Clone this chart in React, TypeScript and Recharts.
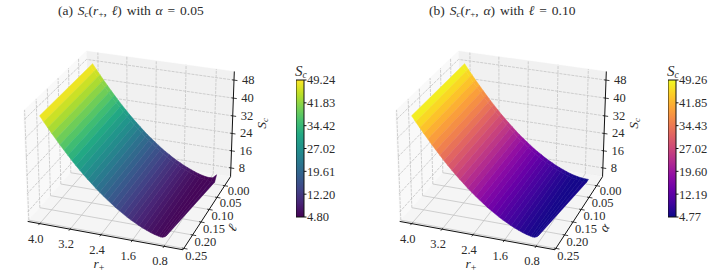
import React from 'react';
import { ScatterChart, Scatter, XAxis, YAxis, BarChart, Bar } from 'recharts';

const FONT = '"Liberation Serif", serif';
const INK = '#2b2b2b';

// values
const rValues = [4.0, 3.9, 3.8, 3.7, 3.6, 3.5, 3.4, 3.3, 3.2, 3.1, 3.0, 2.9, 2.8, 2.7, 2.6, 2.5, 2.4, 2.3, 2.2, 2.1, 2.0, 1.9, 1.8, 1.7, 1.6, 1.5, 1.4, 1.3, 1.2, 1.1, 1.0, 0.9, 0.8, 0.7, 0.6];
const rFrontEdge = [4.0, 3.9, 3.8, 3.7, 3.6, 3.5, 3.4, 3.3, 3.2, 3.1, 3.0, 2.9, 2.8, 2.7, 2.6, 2.5, 2.4, 2.3, 2.2, 2.1, 2.0, 1.9, 1.8, 1.7, 1.6, 1.5, 1.4, 1.3, 1.2, 1.1, 1.0, 0.95, 0.9, 0.85, 0.8];
const scMiddle = [49.2, 46.9, 44.7, 42.5, 40.4, 38.3, 36.3, 34.3, 32.4, 30.5, 28.7, 27.0, 25.3, 23.7, 22.1, 20.6, 19.2, 17.8, 16.5, 15.2, 14.0, 12.9, 11.8, 10.8, 9.9, 9.0, 8.2, 7.5, 6.8, 6.2, 5.7, 5.3, 5.0, 4.85, 4.8];
const scFrontEdge = [49.2, 46.9, 44.7, 42.5, 40.4, 38.3, 36.3, 34.3, 32.4, 30.5, 28.7, 27.0, 25.3, 23.7, 22.1, 20.6, 19.2, 17.8, 16.5, 15.2, 14.0, 12.9, 11.8, 10.8, 9.9, 9.0, 8.2, 7.5, 6.8, 6.3, 5.9, 5.7, 5.8, 6.2, 7.0];
const scTipA = [49.2, 46.9, 44.7, 42.5, 40.4, 38.3, 36.3, 34.3, 32.4, 30.5, 28.7, 27.0, 25.3, 23.7, 22.1, 20.6, 19.2, 17.8, 16.5, 15.2, 14.0, 12.9, 11.8, 10.8, 9.9, 9.0, 8.2, 7.5, 6.8, 6.2, 5.7, 5.3, 5.1, 5.3, 7.0];
const ellColumns = [-0.012, 0.0, 0.24];

const rTicks = [4.0, 3.2, 2.4, 1.6, 0.8];
const ellTicks = [0.0, 0.05, 0.1, 0.15, 0.2, 0.25];
const zTicks = [8, 16, 24, 32, 40, 48];
const barTicksA = [4.8, 12.2, 19.61, 27.02, 34.42, 41.83, 49.24];
const barTicksB = [4.77, 12.19, 19.6, 27.02, 34.43, 41.85, 49.26];

const viridis = ['#440154', '#482475', '#414487', '#355f8d', '#2a788e', '#21918c', '#22a884', '#44bf70', '#7ad151', '#bddf26', '#fde725'];
const plasma = ['#0d0887', '#41049d', '#6a00a8', '#8f0da4', '#b12a90', '#cc4778', '#e16462', '#f2844b', '#fca636', '#fcce25', '#f0f921'];

// box limits of the 3d axes
const rBox = [0.33, 4.32];
const ellBox = [-0.04, 0.255];
const zBox = [3.9, 51.8];

// mpl-like camera
const ELEV = (26 * Math.PI) / 180;
const AZIM = (110 * Math.PI) / 180;
const DIST = 10;
const BOX = [1.1905, 1.1905, 0.885];
const SCALE = 1354;
const CX = 132.3;
const CY = 145.5;
const PANEL_W = 290;
const PANEL_H = 278;

const project = (r: number, ell: number, z: number) => {
  const qx = ((r - rBox[0]) / (rBox[1] - rBox[0]) - 0.5) * BOX[0];
  const qy = ((ell - ellBox[0]) / (ellBox[1] - ellBox[0]) - 0.5) * BOX[1];
  const qz = ((z - zBox[0]) / (zBox[1] - zBox[0]) - 0.5) * BOX[2];
  const sa = Math.sin(AZIM), ca = Math.cos(AZIM), se = Math.sin(ELEV), ce = Math.cos(ELEV);
  const xv = -sa * qx + ca * qy;
  const yv = -ca * se * qx - sa * se * qy + ce * qz;
  const zv = ce * ca * qx + ce * sa * qy + se * qz;
  const d = DIST - zv;
  return { x: xv / d, y: yv / d };
};

const path3d = (pts: number[][]) => pts.map(([r, l, z]) => project(r, l, z));

const cmapColor = (stops: string[], t: number) => {
  const v = Math.max(0, Math.min(1, t)) * (stops.length - 1);
  const i = Math.min(stops.length - 2, Math.floor(v));
  const f = v - i;
  const a = stops[i], b = stops[i + 1];
  const ch = (s: string, k: number) => parseInt(s.slice(1 + k * 2, 3 + k * 2), 16);
  const mix = [0, 1, 2].map((k) => Math.round(ch(a, k) + (ch(b, k) - ch(a, k)) * f));
  return `rgb(${mix.join(',')})`;
};

const NoDot = () => <g />;

const TextDot = ({ cx, cy, payload }: any) => (
  <text x={cx + payload.dx} y={cy + payload.dy} textAnchor={payload.anchor} fontFamily={FONT} fontSize={12.5} fill={INK}>
    {payload.label}
  </text>
);

const RPlusDot = ({ cx, cy, payload }: any) => (
  <text x={cx + payload.dx} y={cy + payload.dy} textAnchor="middle" fontFamily={FONT} fontSize={13.5} fill={INK}>
    <tspan fontStyle="italic">r</tspan>
    <tspan fontSize={10} dy={3}>+</tspan>
  </text>
);

const EllDot = ({ cx, cy, payload }: any) => (
  <text transform={`translate(${cx + payload.dx},${cy + payload.dy}) rotate(-58)`} textAnchor="middle" fontFamily={FONT} fontSize={13.5} fontStyle="italic" fill={INK}>
    {payload.label}
  </text>
);

const ScDot = ({ cx, cy, payload }: any) => (
  <text transform={`translate(${cx + payload.dx},${cy + payload.dy}) rotate(-90)`} textAnchor="middle" fontFamily={FONT} fontSize={13.5} fill={INK}>
    <tspan fontStyle="italic">S</tspan>
    <tspan fontSize={9} dy={2} fontStyle="italic">c</tspan>
  </text>
);

const Poly = (key: string, pts: { x: number; y: number }[], fill: string, stroke: string, width = 0.6, dash?: string) => (
  <Scatter
    key={key}
    data={pts}
    isAnimationActive={false}
    shape={NoDot}
    line={{ fill, stroke, strokeWidth: width, strokeDasharray: dash }}
  />
);

const GRID = '#c4c4c4';
const DASH = '3 1';

interface SurfaceProps {
  columns: number[][];
  stops: string[];
  zMin: number;
  zMax: number;
  ellName: string;
}

const Surface3D: React.FC<SurfaceProps> = ({ columns, stops, zMin, zMax, ellName }) => {
  const [r0, r1] = rBox;
  const [l0, l1] = ellBox;
  const [z0, z1] = zBox;
  const rColumns = [rValues, rValues, rFrontEdge];

  const panes = [
    Poly('wall-back', path3d([[r0, l0, z0], [r1, l0, z0], [r1, l0, z1], [r0, l0, z1]]), '#f1f1f1', '#f1f1f1', 0.3),
    Poly('wall-left', path3d([[r1, l0, z0], [r1, l1, z0], [r1, l1, z1], [r1, l0, z1]]), '#f9f9f9', '#f9f9f9', 0.3),
    Poly('floor', path3d([[r0, l0, z0], [r1, l0, z0], [r1, l1, z0], [r0, l1, z0]]), '#f5f5f5', '#f5f5f5', 0.3),
  ];

  const grid = [
    ...rTicks.map((r) => Poly(`gr${r}`, path3d([[r, l1, z0], [r, l0, z0]]), 'none', GRID, 0.8)),
    ...rTicks.map((r) => Poly(`gw${r}`, path3d([[r, l0, z0], [r, l0, z1]]), 'none', GRID, 0.8, DASH)),
    ...ellTicks.map((l) => Poly(`gl${l}`, path3d([[r0, l, z0], [r1, l, z0]]), 'none', GRID, 0.8)),
    ...ellTicks.map((l) => Poly(`gv${l}`, path3d([[r1, l, z0], [r1, l, z1]]), 'none', GRID, 0.8, DASH)),
    ...zTicks.map((z) => Poly(`gz${z}`, path3d([[r0, l0, z], [r1, l0, z], [r1, l1, z]]), 'none', GRID, 0.8, DASH)),
  ];

  const axes = [
    Poly('ax-r', path3d([[r1, l1, z0], [r0, l1, z0]]), 'none', '#111', 1),
    Poly('ax-l', path3d([[r0, l1, z0], [r0, l0, z0]]), 'none', '#111', 1),
    Poly('ax-z', path3d([[r0, l0, z0], [r0, l0, z1]]), 'none', '#111', 1),
    ...rTicks.map((r) => Poly(`tr${r}`, path3d([[r, l1 - 0.004, z0], [r, l1 + 0.006, z0]]), 'none', '#111', 0.8)),
    ...ellTicks.map((l) => Poly(`tl${l}`, path3d([[r0 + 0.05, l, z0], [r0 - 0.09, l, z0]]), 'none', '#111', 0.8)),
    ...zTicks.map((z) => Poly(`tz${z}`, path3d([[r0 + 0.05, l0, z], [r0 - 0.09, l0, z]]), 'none', '#111', 0.8)),
  ];

  // strips are painted from the back (large r) towards the front
  const strips = rValues.slice(0, -1).flatMap((_, i) =>
    ellColumns.slice(0, -1).map((l, c) => {
      const lNext = ellColumns[c + 1];
      const ra = rColumns[c], rb = rColumns[c + 1];
      const a = columns[c][i], b = columns[c + 1][i], e = columns[c + 1][i + 1], d = columns[c][i + 1];
      const t = ((a + b + d + e) / 4 - zMin) / (zMax - zMin);
      const color = cmapColor(stops, t);
      return Poly(`s${i}-${c}`, path3d([[ra[i], l, a], [rb[i], lNext, b], [rb[i + 1], lNext, e], [ra[i + 1], l, d], [ra[i], l, a]]), color, color, 0.5);
    })
  );

  const rLabels = rTicks.map((r) => ({ ...project(r, l1, z0), label: r.toFixed(1), dx: -4, dy: 19, anchor: 'middle' }));
  const ellLabels = ellTicks.map((l, i) => ({ ...project(r0, l, z0), label: l.toFixed(2), dx: 3 - 0.3 * i, dy: 9.5 + 0.5 * i, anchor: 'start' }));
  const zLabels = zTicks.map((z) => ({ ...project(r0, l0, z), label: String(z), dx: 8, dy: 4, anchor: 'start' }));

  return (
    <ScatterChart width={PANEL_W} height={PANEL_H} margin={{ top: 0, right: 0, bottom: 0, left: 0 }} style={{ position: 'absolute', left: 0, top: 0 }}>
      <XAxis type="number" dataKey="x" hide allowDataOverflow domain={[-CX / SCALE, (PANEL_W - CX) / SCALE]} />
      <YAxis type="number" dataKey="y" hide allowDataOverflow domain={[-(PANEL_H - CY) / SCALE, CY / SCALE]} />
      {panes}
      {grid}
      {axes}
      {strips}
      <Scatter data={rLabels} isAnimationActive={false} shape={TextDot} />
      <Scatter data={ellLabels} isAnimationActive={false} shape={TextDot} />
      <Scatter data={zLabels} isAnimationActive={false} shape={TextDot} />
      <Scatter data={[{ ...project(2.4, l1, z0), dx: -2, dy: 33 }]} isAnimationActive={false} shape={RPlusDot} />
      <Scatter data={[{ ...project(r0, 0.15, z0), label: ellName, dx: 35, dy: 8 }]} isAnimationActive={false} shape={EllDot} />
      <Scatter data={[{ ...project(r0, l0, 30), dx: 33, dy: 3 }]} isAnimationActive={false} shape={ScDot} />
    </ScatterChart>
  );
};

interface ColorBarProps {
  ticks: number[];
  stops: string[];
  id: string;
}

const ColorBar: React.FC<ColorBarProps> = ({ ticks, stops, id }) => {
  const barData = [{ name: 'Sc', range: [ticks[0], ticks[ticks.length - 1]] }];
  return (
    <div style={{ position: 'absolute', left: 296, top: 60 }}>
      <BarChart width={50} height={170} data={barData} margin={{ top: 20, right: 0, bottom: 13, left: 0 }} barCategoryGap={0}>
        <defs>
          <linearGradient id={id} x1="0" y1="1" x2="0" y2="0">
            {stops.map((c, i) => (
              <stop key={c} offset={i / (stops.length - 1)} stopColor={c} />
            ))}
          </linearGradient>
        </defs>
        <XAxis dataKey="name" hide />
        <YAxis
          orientation="right"
          type="number"
          width={42}
          domain={[ticks[0], ticks[ticks.length - 1]]}
          ticks={ticks}
          interval={0}
          tickSize={2.5}
          tickMargin={0.5}
          axisLine={false}
          tickFormatter={(v: number) => v.toFixed(2)}
          tick={{ fontFamily: FONT, fontSize: 12.5, fill: INK }}
          tickLine={{ stroke: '#111' }}
        />
        <Bar dataKey="range" fill={`url(#${id})`} stroke="#111" strokeWidth={1} isAnimationActive={false} />
      </BarChart>
      <div style={{ position: 'absolute', left: -1, top: 3, font: `italic 15px ${FONT}`, color: INK, whiteSpace: 'nowrap' }}>
        S<span style={{ fontSize: 9.5, position: 'relative', top: 2 }}>c</span>
      </div>
    </div>
  );
};

const titleStyle: React.CSSProperties = { position: 'absolute', top: 3, font: `13.5px ${FONT}`, wordSpacing: 1.5, color: INK, whiteSpace: 'nowrap' };
const sub: React.CSSProperties = { fontSize: 9, position: 'relative', top: 2 };

export default function App() {
  const columnsA = [scTipA, scMiddle, scFrontEdge];
  const columnsB = [scMiddle, scMiddle, scFrontEdge];
  return (
    <div style={{ position: 'absolute', left: 0, top: 0, width: 713, height: 278, background: '#fff', overflow: 'hidden' }}>
      <div style={{ position: 'absolute', left: 0, top: 0, width: 356, height: 278 }}>
        <Surface3D columns={columnsA} stops={viridis} zMin={4.8} zMax={49.24} ellName="ℓ" />
        <ColorBar ticks={barTicksA} stops={viridis} id="viridisBar" />
        <div style={{ ...titleStyle, left: 58 }}>
          (a) <i>S</i><i style={sub}>c</i>(<i>r</i><span style={sub}>+</span>, <i>ℓ</i>) with <i>α</i> = 0.05
        </div>
      </div>
      <div style={{ position: 'absolute', left: 372, top: 0, width: 341, height: 278 }}>
        <Surface3D columns={columnsB} stops={plasma} zMin={4.77} zMax={49.26} ellName="α" />
        <ColorBar ticks={barTicksB} stops={plasma} id="plasmaBar" />
        <div style={{ ...titleStyle, left: 57 }}>
          (b) <i>S</i><i style={sub}>c</i>(<i>r</i><span style={sub}>+</span>, <i>α</i>) with <i>ℓ</i> = 0.10
        </div>
      </div>
    </div>
  );
}
